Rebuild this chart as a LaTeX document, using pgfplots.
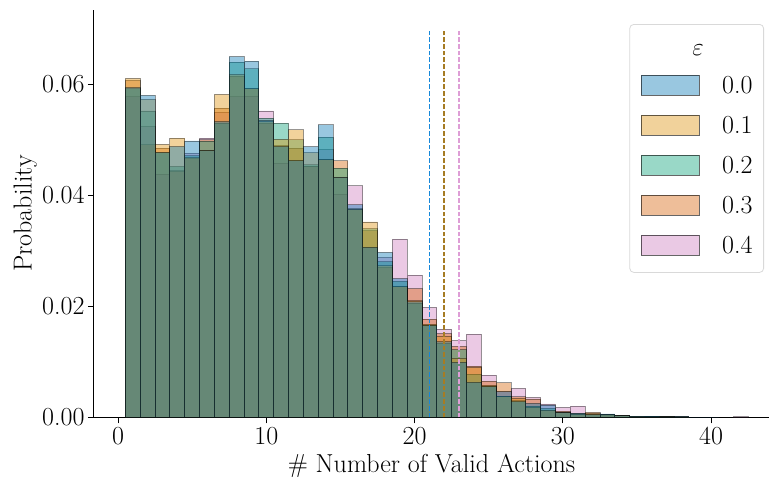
\documentclass[border=0pt]{standalone}
\usepackage{fontspec}
\usepackage{pgfplots}
\usepackage{pgfplotstable}
\pgfplotsset{compat=1.18}

% colorblind palette, one colour per epsilon
\definecolor{c0}{HTML}{0173B2}
\definecolor{c1}{HTML}{DE8F05}
\definecolor{c2}{HTML}{029E73}
\definecolor{c3}{HTML}{D55E00}
\definecolor{c4}{HTML}{CC78BC}
% colours of the dashed marker lines
\definecolor{markblue}{HTML}{1688DA}
\definecolor{markgold}{HTML}{A67C24}
\definecolor{markpink}{HTML}{DE9ED6}

% probability per number of valid actions (bins of width 1)
\pgfplotstableread{
x y
1 0.0594
2 0.0580
3 0.0477
4 0.0488
5 0.0498
6 0.0480
7 0.0533
8 0.0650
9 0.0642
10 0.0535
11 0.0488
12 0.0462
13 0.0488
14 0.0527
15 0.0432
16 0.0383
17 0.0306
18 0.0297
19 0.0250
20 0.0208
21 0.0165
22 0.0136
23 0.0099
24 0.0063
25 0.0055
26 0.0046
27 0.0028
28 0.0025
29 0.0022
30 0.0008
31 0.0007
32 0.0005
33 0.0006
34 0.0003
35 0.0002
36 0.0002
37 0.0001
38 0.0001
39 0.00005
40 0.00003
}\epsA

\pgfplotstableread{
x y
1 0.0611
2 0.0573
3 0.0492
4 0.0503
5 0.0468
6 0.0481
7 0.0582
8 0.0618
9 0.0592
10 0.0533
11 0.0501
12 0.0518
13 0.0477
14 0.0464
15 0.0432
16 0.0374
17 0.0352
18 0.0273
19 0.0235
20 0.0210
21 0.0168
22 0.0146
23 0.0106
24 0.0090
25 0.0058
26 0.0037
27 0.0034
28 0.0018
29 0.0013
30 0.0008
31 0.0006
32 0.0007
33 0.0005
34 0.0003
35 0.0002
36 0.0001
37 0.0001
38 0.00005
}\epsB

\pgfplotstableread{
x y
1 0.0592
2 0.0552
3 0.0477
4 0.0452
5 0.0471
6 0.0498
7 0.0530
8 0.0640
9 0.0628
10 0.0539
11 0.0530
12 0.0500
13 0.0455
14 0.0505
15 0.0449
16 0.0374
17 0.0340
18 0.0280
19 0.0245
20 0.0206
21 0.0166
22 0.0133
23 0.0122
24 0.0078
25 0.0056
26 0.0038
27 0.0030
28 0.0020
29 0.0016
30 0.0009
31 0.0007
32 0.0005
33 0.0005
34 0.0003
35 0.0002
36 0.0002
37 0.0001
38 0.0001
}\epsC

\pgfplotstableread{
x y
1 0.0607
2 0.0491
3 0.0485
4 0.0443
5 0.0466
6 0.0500
7 0.0557
8 0.0615
9 0.0592
10 0.0530
11 0.0490
12 0.0485
13 0.0452
14 0.0464
15 0.0462
16 0.0376
17 0.0336
18 0.0270
19 0.0235
20 0.0232
21 0.0177
22 0.0151
23 0.0128
24 0.0092
25 0.0065
26 0.0062
27 0.0037
28 0.0033
29 0.0013
30 0.0011
31 0.0006
32 0.0009
33 0.0005
34 0.0004
35 0.0002
36 0.0001
37 0.0001
}\epsD

\pgfplotstableread{
x y
1 0.0578
2 0.0524
3 0.0438
4 0.0445
5 0.0476
6 0.0503
7 0.0550
8 0.0578
9 0.0579
10 0.0552
11 0.0458
12 0.0462
13 0.0452
14 0.0482
15 0.0402
16 0.0417
17 0.0306
18 0.0288
19 0.0321
20 0.0256
21 0.0198
22 0.0159
23 0.0138
24 0.0150
25 0.0076
26 0.0046
27 0.0052
28 0.0036
29 0.0024
30 0.0018
31 0.0020
32 0.0005
33 0.0004
34 0.0003
35 0.0002
36 0.0002
37 0.0001
38 0.0001
42 0.0001
}\epsE

\pgfplotsset{
  histbar/.style={
    ybar, bar width=1, bar shift=0pt,
    fill=#1, fill opacity=0.4,
    draw=black, draw opacity=0.4, line width=0.9pt,
  },
  vmark/.style={
    color=#1, solid, line width=1.8pt, dash pattern=on 4.7pt off 2pt,
  },
  legpatch/.style={
    fill=#1, fill opacity=0.4, draw=black, draw opacity=0.6, line width=0.9pt,
  },
}

\newcommand{\bigfont}{\fontsize{26}{30}\selectfont}

\begin{document}
\begin{tikzpicture}
\begin{axis}[
  scale only axis,
  width=675pt, height=407.3pt,
  xmin=-1.62, xmax=43.9,
  ymin=0, ymax=0.0734,
  axis lines*=left,
  axis line style={-, line width=1pt, black},
  xtick={0,10,20,30,40},
  ytick={0,0.02,0.04,0.06},
  scaled y ticks=false,
  yticklabel style={/pgf/number format/.cd, fixed, fixed zerofill, precision=2},
  tick align=outside,
  major tick length=6pt,
  tick style={line width=1pt, black},
  ticklabel style={font=\bigfont, /pgf/number format/assume math mode=true},
  xlabel={\# Number of Valid Actions},
  ylabel={Probability},
  every axis x label/.style={at={(axis description cs:0.5,-0.12)}, anchor=center, font=\bigfont},
  every axis y label/.style={at={(axis description cs:-0.102,0.5)}, anchor=center, rotate=90, font=\bigfont},
  legend style={
    at={(0.9926,0.9656)}, anchor=north east,
    draw=black!15, line width=0.8pt, rounded corners=4pt, fill=white,
    inner xsep=11pt, inner ysep=7pt,
    font=\bigfont,
    row sep=0pt,
    nodes={inner sep=0pt},
  },
  legend cell align=left,
  % each entry row is 40pt tall: patch plus gap to the label
  legend image code/.code={
    \path[draw=none, fill=none] (0pt,-20pt) rectangle (81pt,20pt);
    \draw[#1, sharp corners] (0pt,-10pt) rectangle (58pt,10pt);
  },
]
% layered histograms, last epsilon first
\addplot[histbar=c4, forget plot] table {\epsE};
\addplot[histbar=c3, forget plot] table {\epsD};
\addplot[histbar=c2, forget plot] table {\epsC};
\addplot[histbar=c1, forget plot] table {\epsB};
\addplot[histbar=c0, forget plot] table {\epsA};

% dashed markers
\addplot[vmark=markpink, forget plot] coordinates {(23,0) (23,0.07)};
\addplot[vmark=markgold, forget plot] coordinates {(22,0) (22,0.07)};
\addplot[vmark=markblue, forget plot] coordinates {(21,0) (21,0.07)};

% legend title row, then one row per epsilon
\addlegendimage{legend image code/.code={\path[draw=none, fill=none] (0pt,-15pt) rectangle (81pt,19pt);}}
\addlegendentry{\llap{$\varepsilon$\hspace{19pt}}}
\addlegendimage{legpatch=c0}
\addlegendentry{0.0}
\addlegendimage{legpatch=c1}
\addlegendentry{0.1}
\addlegendimage{legpatch=c2}
\addlegendentry{0.2}
\addlegendimage{legpatch=c3}
\addlegendentry{0.3}
\addlegendimage{legpatch=c4}
\addlegendentry{0.4}
\end{axis}
\pgfresetboundingbox
\path[use as bounding box] (-94pt,-69.7pt) rectangle (675pt,417.3pt);
\end{tikzpicture}
\end{document}
